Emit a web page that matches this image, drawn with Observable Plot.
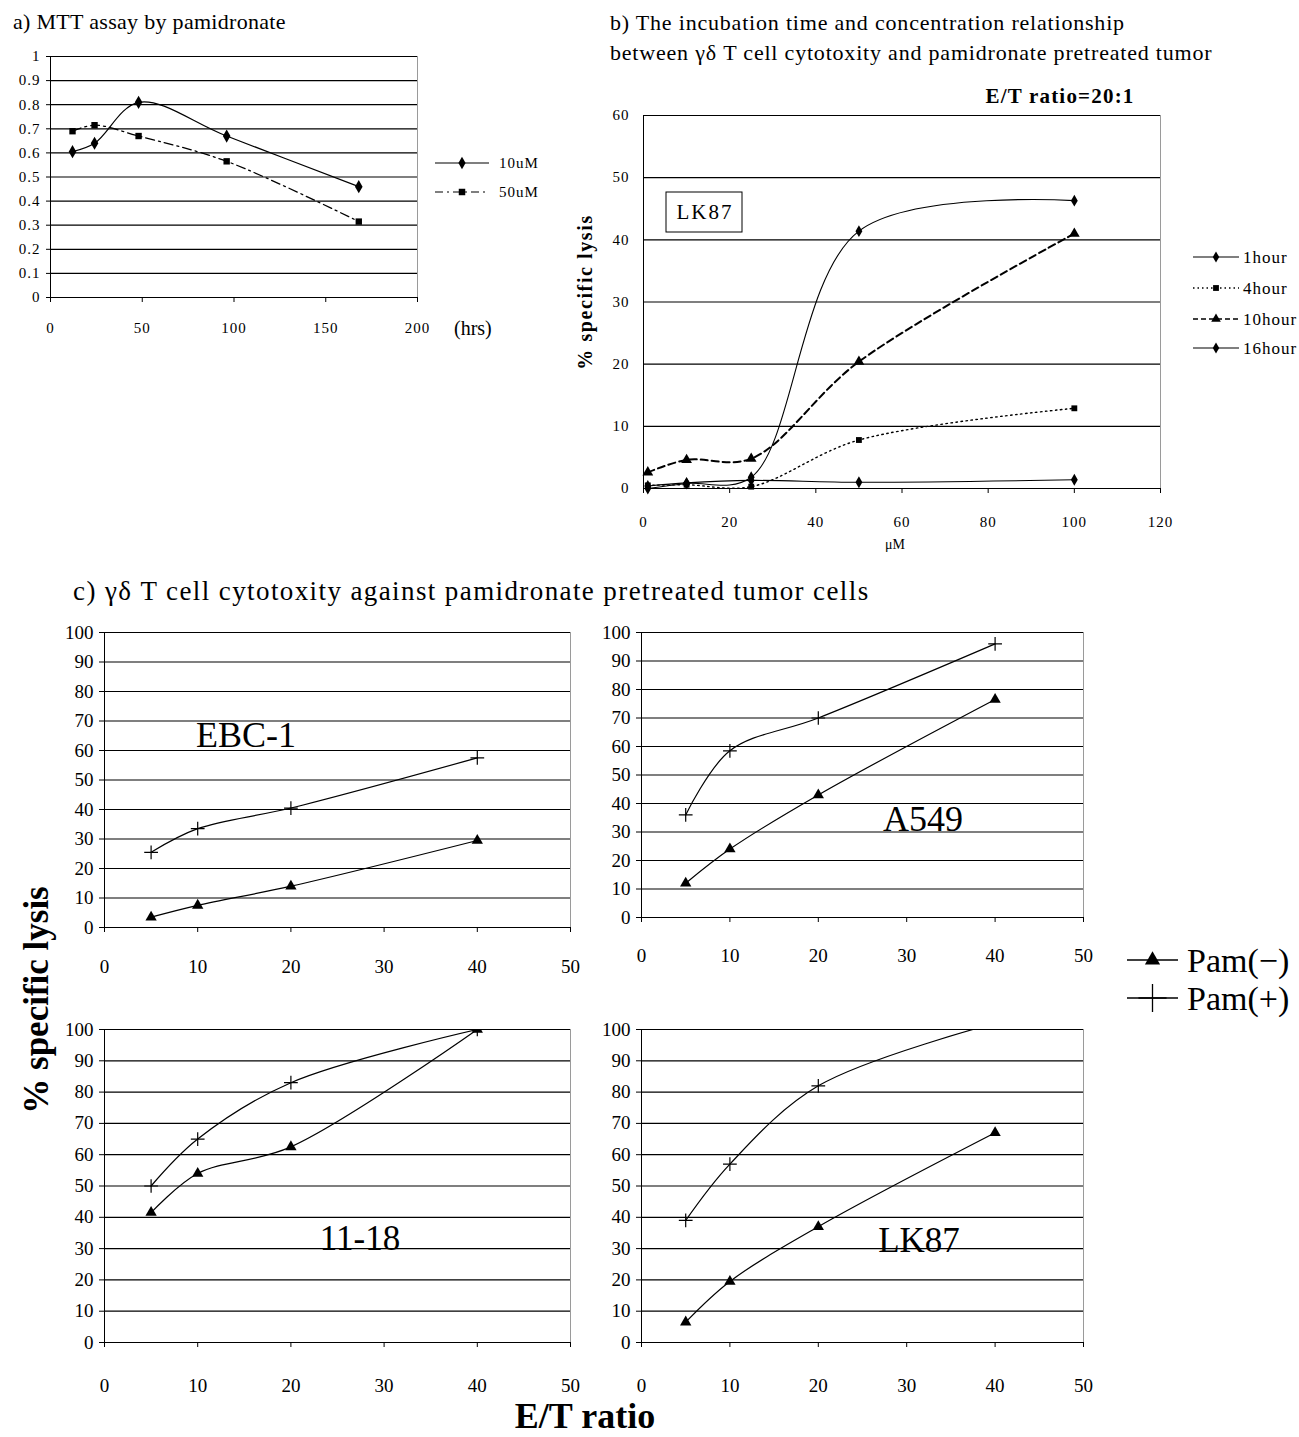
<!DOCTYPE html>
<html><head><meta charset="utf-8">
<script src="https://cdn.jsdelivr.net/npm/d3@7"></script>
<script src="https://cdn.jsdelivr.net/npm/@observablehq/plot@0.6"></script>
<style>
body{margin:0;background:#fff;}
#root{position:relative;width:1299px;height:1437px;overflow:hidden;font-family:"Liberation Serif","Times New Roman",serif;color:#000;}
.abs{position:absolute;white-space:nowrap;line-height:1;}
#root svg text{font-family:"Liberation Serif","Times New Roman",serif !important;}
#root svg.pa text{font-size:15px !important;letter-spacing:1px;}
#root svg.pb text{font-size:15px !important;letter-spacing:1px;}
#root svg.pc text{font-size:19px !important;}
</style></head><body><div id="root"></div>
<script>
// ---------- data ----------
// a) MTT assay
const mttHours = [12, 24, 48, 96, 168];
const mtt10uM = [0.605, 0.64, 0.81, 0.67, 0.46];
const mtt50uM = [0.69, 0.715, 0.67, 0.565, 0.315];
const mttYTicks = [0, 0.1, 0.2, 0.3, 0.4, 0.5, 0.6, 0.7, 0.8, 0.9, 1];
const mttXTicks = [0, 50, 100, 150, 200];
const mttSeries = ["10uM", "50uM"];

// b) incubation time vs concentration (LK87, E/T 20:1)
const concUM = [1, 10, 25, 50, 100];
const lysis1hour = [0.4, 0.9, 1.3, 1.0, 1.4];
const lysis4hour = [0.5, 0.6, 0.3, 7.8, 12.9];
const lysis10hour = [2.6, 4.6, 4.8, 20.4, 41];
const lysis16hour = [0.0, 0.8, 1.8, 41.4, 46.3];
const bXTicks = [0, 20, 40, 60, 80, 100, 120];
const bYTicks = [0, 10, 20, 30, 40, 50, 60];
const bSeries = ["1hour", "4hour", "10hour", "16hour"];

// c) gd T cell cytotoxicity
const etRatio = [5, 10, 20, 40];
const ebc1Minus = [3.5, 7.5, 14, 29.5];
const ebc1Plus = [25.5, 33.5, 40.5, 57.5];
const a549Minus = [12, 24, 43, 76.5];
const a549Plus = [36, 58.5, 70, 96];
const c1118Minus = [41.5, 54, 62.5, 100];
const c1118Plus = [50, 65, 83, 100];
const lk87Minus = [6.5, 19.5, 37, 67];
const lk87Plus = [39, 57, 82, 102];
const cXTicks = [0, 10, 20, 30, 40, 50];
const cYTicks = [0, 10, 20, 30, 40, 50, 60, 70, 80, 90, 100];
const cSeries = ["Pam(\u2212)", "Pam(+)"];

// ---------- helpers ----------
const root = document.getElementById("root");
function place(el, left, top) {
  el.style.position = "absolute";
  el.style.left = left + "px";
  el.style.top = top + "px";
  el.style.background = "transparent";
  el.style.overflow = "visible";
  root.appendChild(el);
  return el;
}
function label(text, x, y, css = {}, anchor = "middle") {
  const d = document.createElement("div");
  d.className = "abs";
  d.textContent = text;
  d.style.left = x + "px";
  d.style.top = y + "px";
  d.style.transform = anchor === "middle" ? "translate(-50%,-50%)" : "translate(0,-50%)";
  Object.assign(d.style, css);
  root.appendChild(d);
  return d;
}
const rows = (xs, ys) => xs.map((x, i) => ({x, y: ys[i]}));

// ---------- panel a ----------
const a10 = rows(mttHours, mtt10uM);
const a50 = rows(mttHours, mtt50uM);
place(Plot.plot({
  className: "pa",
  width: 560, height: 300, marginLeft: 50, marginRight: 143, marginTop: 16, marginBottom: 43,
  x: {domain: [0, 200], ticks: mttXTicks, tickSize: 5, tickPadding: 20, label: null},
  y: {domain: [0, 1], ticks: mttYTicks, tickSize: 4, tickPadding: 6, label: null, tickFormat: d => String(d)},
  marks: [
    Plot.ruleY(mttYTicks, {stroke: "#000", strokeWidth: 1.2}),
    Plot.ruleX([200], {stroke: "#9a9a9a"}),
    Plot.ruleX([0], {stroke: "#000"}),
    Plot.line(a10, {x: "x", y: "y", curve: "catmull-rom", stroke: "#000", strokeWidth: 1.2}),
    Plot.line(a50, {x: "x", y: "y", curve: "catmull-rom", stroke: "#000", strokeWidth: 1.3, strokeDasharray: "9,4,2,4"}),
    Plot.dot(a10, {x: "x", y: "y", symbol: "diamond", fill: "#000", r: 4}),
    Plot.dot(a50, {x: "x", y: "y", symbol: "square", fill: "#000", r: 3.6})
  ]
}), 0, 40);

// ---------- panel b ----------
const b1 = rows(concUM, lysis1hour), b4 = rows(concUM, lysis4hour),
      b10 = rows(concUM, lysis10hour), b16 = rows(concUM, lysis16hour);
place(Plot.plot({
  className: "pb",
  width: 719, height: 500, marginLeft: 63, marginRight: 139, marginTop: 55, marginBottom: 72,
  x: {domain: [0, 120], ticks: bXTicks, tickSize: 5, tickPadding: 23, label: null},
  y: {domain: [0, 60], ticks: bYTicks, tickSize: 0, tickPadding: 14, label: null},
  marks: [
    Plot.ruleY(bYTicks, {stroke: "#000", strokeWidth: 1.2}),
    Plot.ruleX([120], {stroke: "#9a9a9a"}),
    Plot.ruleX([0], {stroke: "#000"}),
    Plot.line(b1, {x: "x", y: "y", curve: "catmull-rom", stroke: "#000", strokeWidth: 1.1}),
    Plot.line(b4, {x: "x", y: "y", curve: "catmull-rom", stroke: "#000", strokeWidth: 1.4, strokeDasharray: "1.5,3.5"}),
    Plot.line(b10, {x: "x", y: "y", curve: "catmull-rom", stroke: "#000", strokeWidth: 2, strokeDasharray: "7,4"}),
    Plot.line(b16, {x: "x", y: "y", curve: "catmull-rom", stroke: "#000", strokeWidth: 1.1}),
    Plot.dot(b1, {x: "x", y: "y", symbol: "diamond", fill: "#000", r: 3.6}),
    Plot.dot(b4, {x: "x", y: "y", symbol: "square", fill: "#000", r: 3.3}),
    Plot.dot(b10, {x: "x", y: "y", symbol: "triangle", fill: "#000", r: 4}),
    Plot.dot(b16, {x: "x", y: "y", symbol: "diamond", fill: "#000", r: 3.6})
  ]
}), 580, 60);

// ---------- panel c ----------
function panelC(minus, plus, left, top, width, height, mL, mR, mT, mB, tp) {
  const m = rows(etRatio, minus), p = rows(etRatio, plus);
  return place(Plot.plot({
    className: "pc",
    width, height, marginLeft: mL, marginRight: mR, marginTop: mT, marginBottom: mB,
    x: {domain: [0, 50], ticks: cXTicks, tickSize: 5, tickPadding: tp, label: null},
    y: {domain: [0, 100], ticks: cYTicks, tickSize: 5, tickPadding: 6, label: null},
    marks: [
      Plot.ruleY(cYTicks, {stroke: "#000", strokeWidth: 1.2}),
      Plot.ruleX([50], {stroke: "#9a9a9a"}),
      Plot.ruleX([0], {stroke: "#000"}),
      Plot.line(m, {x: "x", y: "y", curve: "catmull-rom", stroke: "#000", strokeWidth: 1.2, clip: true}),
      Plot.line(p, {x: "x", y: "y", curve: "catmull-rom", stroke: "#000", strokeWidth: 1.2, clip: true}),
      Plot.dot(m, {x: "x", y: "y", symbol: "triangle", fill: "#000", r: 4.2, clip: true}),
      Plot.dot(p, {x: "x", y: "y", symbol: "plus", stroke: "#000", strokeWidth: 1.2, r: 4.5, clip: true})
    ]
  }), left, top);
}
panelC(ebc1Minus, ebc1Plus, 40, 620, 560, 360, 64, 30, 12, 53, 27);
panelC(a549Minus, a549Plus, 580, 620, 540, 350, 61, 37, 12, 53, 26);
panelC(c1118Minus, c1118Plus, 40, 987, 560, 410, 64, 30, 42, 55, 31);
panelC(lk87Minus, lk87Plus, 580, 987, 540, 410, 61, 37, 42, 55, 31);

// ---------- legends (overlay svg) ----------
const ov = d3.create("svg").attr("width", 1299).attr("height", 1437)
  .style("position", "absolute").style("left", 0).style("top", 0).style("pointer-events", "none")
  .style("overflow", "visible");
function legendItem(x1, x2, y, dash, sw, sym, size, filled, text, fs, tx, ls) {
  ov.append("line").attr("x1", x1).attr("x2", x2).attr("y1", y).attr("y2", y)
    .attr("stroke", "#000").attr("stroke-width", sw).attr("stroke-dasharray", dash);
  ov.append("path").attr("d", d3.symbol(sym, size)())
    .attr("transform", `translate(${(x1 + x2) / 2},${y})`)
    .attr("fill", filled ? "#000" : "none").attr("stroke", filled ? "none" : "#000").attr("stroke-width", 1.3);
  ov.append("text").attr("x", tx).attr("y", y).attr("dy", "0.35em")
    .style("font-size", fs + "px").style("letter-spacing", ls + "px").text(text);
}
legendItem(435, 489, 163, null, 1.2, d3.symbolDiamond, 45, true, mttSeries[0], 15, 499, 1);
legendItem(435, 489, 192, "8,4,2,4", 1.2, d3.symbolSquare, 42, true, mttSeries[1], 15, 499, 1);
legendItem(1193, 1239, 257, null, 1.1, d3.symbolDiamond, 36, true, bSeries[0], 17, 1243, 1);
legendItem(1193, 1239, 288, "1.5,3", 1.3, d3.symbolSquare, 34, true, bSeries[1], 17, 1243, 1);
legendItem(1193, 1239, 319, "5,3", 1.5, d3.symbolTriangle, 40, true, bSeries[2], 17, 1243, 1);
legendItem(1193, 1239, 348, null, 1.1, d3.symbolDiamond, 36, true, bSeries[3], 17, 1243, 1);
legendItem(1127, 1178, 960, null, 1.4, d3.symbolTriangle, 100, true, cSeries[0], 34, 1187, 0);
legendItem(1127, 1178, 998, null, 1.4, d3.symbolPlus, 260, false, cSeries[1], 34, 1187, 0);
root.appendChild(ov.node());

// ---------- text ----------
label("a) MTT assay by pamidronate", 13, 22, {fontSize: "22px", letterSpacing: "0.3px"}, "left");
label("(hrs)", 454, 328, {fontSize: "20px"}, "left");
label("b) The incubation time and concentration relationship", 610, 23, {fontSize: "22px", letterSpacing: "0.8px"}, "left");
label("between \u03b3\u03b4 T cell cytotoxity and pamidronate pretreated tumor", 610, 53, {fontSize: "22px", letterSpacing: "0.8px"}, "left");
label("E/T ratio=20:1", 1060, 96, {fontSize: "21px", fontWeight: "bold", letterSpacing: "1.2px"});
label("LK87", 704, 212, {fontSize: "21px", letterSpacing: "2px", border: "1px solid #000", padding: "9px 8px 9px 10px"});
label("% specific lysis", 585, 292, {fontSize: "20px", fontWeight: "bold", letterSpacing: "1.6px", transform: "translate(-50%,-50%) rotate(-90deg)"});
label("\u03bcM", 895, 545, {fontSize: "14px"});
label("c)  \u03b3\u03b4 T cell cytotoxity against pamidronate pretreated tumor cells", 73, 591, {fontSize: "27px", letterSpacing: "1.4px"}, "left");
label("EBC-1", 246, 735, {fontSize: "36px"});
label("A549", 923, 819, {fontSize: "36px"});
label("11-18", 360, 1238, {fontSize: "35px"});
label("LK87", 919, 1240, {fontSize: "35px"});
label("% specific lysis", 36, 1000, {fontSize: "35px", fontWeight: "bold", transform: "translate(-50%,-50%) rotate(-90deg)"});
label("E/T ratio", 585, 1416, {fontSize: "36px", fontWeight: "bold"});
</script></body></html>
